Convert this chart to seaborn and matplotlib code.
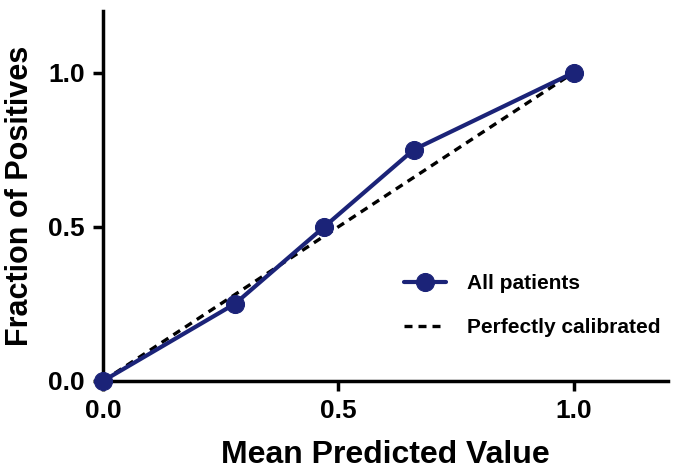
import matplotlib
matplotlib.use("Agg")
import matplotlib.pyplot as plt
import seaborn as sns
import pandas as pd

mean_predicted = [0.0, 0.28, 0.47, 0.66, 1.0]
fraction_positives = [0.0, 0.25, 0.5, 0.75, 1.0]
perfect_x = [0.0, 1.0]
perfect_y = [0.0, 1.0]
ticks = [0.0, 0.5, 1.0]
tick_labels = ["0.0", "0.5", "1.0"]

sns.set_theme(style="ticks")
plt.rcParams["font.family"] = ["Liberation Sans", "DejaVu Sans"]
plt.rcParams["font.weight"] = "bold"
plt.rcParams["text.color"] = "black"
plt.rcParams["axes.labelcolor"] = "black"
plt.rcParams["xtick.color"] = "black"
plt.rcParams["ytick.color"] = "black"

fig = plt.figure(figsize=(6.74, 4.72), dpi=100)
ax = fig.add_axes([0.153, 0.193, 0.838, 0.784])

navy = "#1b2378"
df = pd.DataFrame({"x": mean_predicted, "y": fraction_positives})
dfp = pd.DataFrame({"x": perfect_x, "y": perfect_y})
sns.lineplot(data=dfp, x="x", y="y", ax=ax, color="black", lw=2.4,
             linestyle=(0, (2.4, 1.8)), label="Perfectly calibrated", zorder=2)
sns.lineplot(data=df, x="x", y="y", ax=ax, color=navy, lw=3, marker="o",
             markersize=13, markeredgecolor=navy, label="All patients",
             zorder=3, clip_on=False)

ax.set_xlim(0, 1.2)
ax.set_ylim(0, 1.2)
ax.set_xticks(ticks)
ax.set_xticklabels(tick_labels)
ax.set_yticks(ticks)
ax.set_yticklabels(tick_labels)
ax.tick_params(axis="both", length=7, width=2.5, labelsize=19, pad=6,
               color="black", labelcolor="black")
for s in ["top", "right"]:
    ax.spines[s].set_visible(False)
for s in ["left", "bottom"]:
    ax.spines[s].set_linewidth(2.5)
    ax.spines[s].set_color("black")
ax.set_xlabel("Mean Predicted Value", fontsize=23, fontweight="bold",
              labelpad=12, color="black")
ax.set_ylabel("Fraction of Positives", fontsize=22, fontweight="bold",
              labelpad=10, color="black")

h, l = ax.get_legend_handles_labels()
order = [l.index("All patients"), l.index("Perfectly calibrated")]
leg = ax.legend([h[i] for i in order], [l[i] for i in order], frameon=False,
                loc="upper left", bbox_to_anchor=(0.5, 0.34), fontsize=15,
                handlelength=2.0, handletextpad=1.0, labelspacing=1.2)
for t in leg.get_texts():
    t.set_color("black")

fig.savefig("out.png", dpi=100)
